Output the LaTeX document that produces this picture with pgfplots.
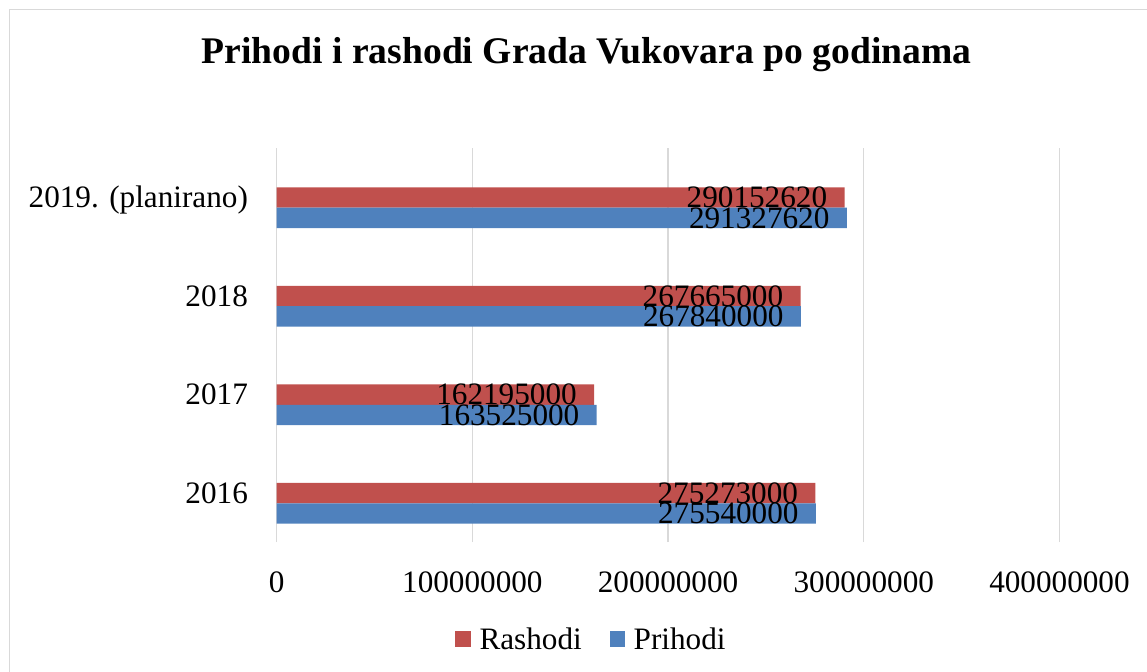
\documentclass[border=0pt]{standalone}
\usepackage{fontspec}
\setmainfont{Liberation Serif}
\usepackage{pgfplots}
\pgfplotsset{compat=1.18}
\definecolor{rash}{HTML}{C0504D}
\definecolor{prih}{HTML}{4F81BD}
\definecolor{gridc}{HTML}{D9D9D9}
\newcommand{\lbl}{\fontsize{15.6pt}{18pt}\selectfont}
\begin{document}
\begin{tikzpicture}
\useasboundingbox (0,0) rectangle (573.5pt,335.5pt);
\draw[gridc, line width=0.6pt] (4.75pt,-1pt) -- (4.75pt,330.75pt) -- (574pt,330.75pt);
\begin{axis}[
  at={(138.35pt,64.5pt)}, anchor=south west,
  scale only axis, width=391.4pt, height=197pt,
  xbar, bar width=10.15pt,
  xmin=0, xmax=4e8, ymin=-0.393, ymax=3.606,
  xtick={0,1e8,2e8,3e8,4e8},
  xticklabels={0,100000000,200000000,300000000,400000000},
  scaled x ticks=false,
  ytick={0,1,2,3},
  yticklabels={2016,2017,2018,2019. (planirano)},
  xmajorgrids, grid style={gridc, line width=0.6pt},
  axis line style={draw=none},
  major tick length=0pt,
  xticklabel style={font=\lbl, inner sep=0pt, anchor=center, yshift=-20pt},
  yticklabel style={font=\lbl, inner sep=0pt, anchor=base east, xshift=-14.2pt},
  point meta=explicit symbolic,
  nodes near coords,
  every node near coord/.append style={font=\lbl, inner sep=0pt, anchor=east, xshift=-8.5pt, text=black},
  title={\textbf{Prihodi i rashodi Grada Vukovara po godinama}},
  every axis title shift=0pt,
  title style={font=\fontsize{18.8pt}{22pt}\selectfont, at={(axis description cs:0.3958,1.215)}, anchor=base, inner sep=0pt, yshift=0pt},
  legend columns=2,
  legend image code/.code={\fill[#1] (0pt,-3.875pt) rectangle (7.75pt,3.875pt);},
  legend style={draw=none, fill=none, at={(axis description cs:0.2278,-0.2741)}, anchor=south west, font=\lbl, inner sep=0pt, column sep=0pt,
    nodes={inner sep=0pt, text depth=0pt},
    /tikz/every odd column/.append style={column sep=4.3pt},
    /tikz/every even column/.append style={column sep=13.9pt}},
]
\addplot[fill=rash, draw=none, bar shift=5.075pt] coordinates {
  (275273000,0) [275273000]
  (162195000,1) [162195000]
  (267665000,2) [267665000]
  (290152620,3) [290152620]
};
\addlegendentry{Rashodi}
\addplot[fill=prih, draw=none, bar shift=-5.075pt] coordinates {
  (275540000,0) [275540000]
  (163525000,1) [163525000]
  (267840000,2) [267840000]
  (291327620,3) [291327620]
};
\addlegendentry{Prihodi}
\end{axis}
\end{tikzpicture}
\end{document}
